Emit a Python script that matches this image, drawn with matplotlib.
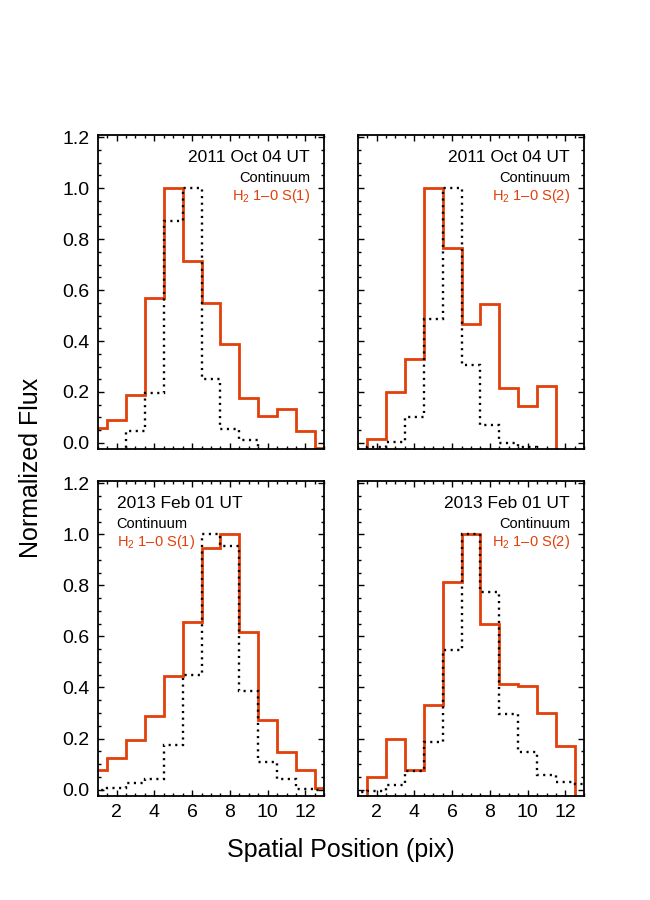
import numpy as np
import matplotlib
matplotlib.use("Agg")
import matplotlib.pyplot as plt
from matplotlib.ticker import MultipleLocator

plt.rcParams['font.family'] = ['Liberation Sans', 'DejaVu Sans']
plt.rcParams['mathtext.fontset'] = 'custom'
plt.rcParams['mathtext.rm'] = 'Liberation Sans'
plt.rcParams['mathtext.default'] = 'regular'

# pixel positions (bin centres)
positions = [1, 2, 3, 4, 5, 6, 7, 8, 9, 10, 11, 12, 13]

# 2011 Oct 04, H2 1-0 S(1)
line_2011_s1 = [0.06, 0.09, 0.19, 0.57, 1.0, 0.715, 0.55, 0.39, 0.175, 0.105, 0.135, 0.045, -0.02]
cont_2011_s1 = [-0.05, -0.05, 0.045, 0.195, 0.87, 1.0, 0.25, 0.055, 0.01, -0.05, -0.05, -0.05, -0.05]
# 2011 Oct 04, H2 1-0 S(2)
line_2011_s2 = [-0.05, 0.015, 0.2, 0.33, 1.0, 0.765, 0.465, 0.545, 0.215, 0.145, 0.225, -0.05, -0.05]
cont_2011_s2 = [-0.05, -0.015, 0.004, 0.1, 0.487, 1.0, 0.305, 0.07, 0.0, -0.015, -0.05, -0.05, -0.05]
# 2013 Feb 01, H2 1-0 S(1)
line_2013_s1 = [0.075, 0.122, 0.193, 0.29, 0.445, 0.658, 0.948, 1.0, 0.617, 0.272, 0.148, 0.077, 0.006]
cont_2013_s1 = [-0.003, 0.008, 0.025, 0.04, 0.175, 0.45, 1.0, 0.955, 0.385, 0.11, 0.04, 0.003, 0.0]
# 2013 Feb 01, H2 1-0 S(2)
line_2013_s2 = [-0.05, 0.05, 0.2, 0.076, 0.332, 0.813, 1.0, 0.65, 0.413, 0.407, 0.302, 0.171, -0.05]
cont_2013_s2 = [-0.008, -0.007, 0.02, 0.073, 0.185, 0.547, 1.0, 0.773, 0.296, 0.146, 0.058, 0.028, 0.021]

dates = ['2011 Oct 04 UT', '2011 Oct 04 UT', '2013 Feb 01 UT', '2013 Feb 01 UT']
line_labels = ['H$_2$ 1\u20130 S(1)', 'H$_2$ 1\u20130 S(2)', 'H$_2$ 1\u20130 S(1)', 'H$_2$ 1\u20130 S(2)']
cont_label = 'Continuum'

RED = '#e2400a'

fig = plt.figure(figsize=(6.5, 9), dpi=100)
W, H = 650, 900
boxes = [(97.7, 134.7, 324.3, 449.3), (357.7, 134.7, 584.3, 449.3),
         (97.7, 480.7, 324.3, 796.0), (357.7, 480.7, 584.3, 796.0)]

lines = [line_2011_s1, line_2011_s2, line_2013_s1, line_2013_s2]
conts = [cont_2011_s1, cont_2011_s2, cont_2013_s1, cont_2013_s2]

pos = np.array(positions, dtype=float)
edges = np.concatenate([pos - 0.5, [pos[-1] + 0.5]])

for i, (x0, y0, x1, y1) in enumerate(boxes):
    ax = fig.add_axes([x0 / W, 1 - y1 / H, (x1 - x0) / W, (y1 - y0) / H])
    ax.stairs(lines[i], edges, baseline=None, color=RED, lw=2.0, zorder=2)
    ax.stairs(conts[i], edges, baseline=None, color='black', lw=1.7,
              linestyle=(0, (0.9, 1.9)), zorder=3)
    ax.set_xlim(1, 13)
    ax.set_ylim(-0.025, 1.21)
    ax.xaxis.set_major_locator(MultipleLocator(2))
    ax.xaxis.set_minor_locator(MultipleLocator(0.5))
    ax.yaxis.set_major_locator(MultipleLocator(0.2))
    ax.yaxis.set_minor_locator(MultipleLocator(0.05))
    ax.tick_params(which='both', direction='in', top=True, right=True,
                   labelsize=14, width=1.0, pad=6)
    ax.tick_params(which='major', length=4.5)
    ax.tick_params(which='minor', length=2.5)
    for s in ax.spines.values():
        s.set_linewidth(1.3)
    ax.yaxis.set_major_formatter(plt.FuncFormatter(lambda v, p: f'{v:.1f}'))
    if i in (0, 1):
        ax.tick_params(labelbottom=False)
    if i in (1, 3):
        ax.tick_params(labelleft=False)
    if i == 2:
        xt, ha = 0.084, 'left'
    else:
        xt, ha = 0.937, 'right'
    ax.text(xt, 0.913, dates[i], transform=ax.transAxes, ha=ha, va='baseline',
            fontsize=12.5, color='black')
    ax.text(xt, 0.849, cont_label, transform=ax.transAxes, ha=ha, va='baseline',
            fontsize=10.5, color='black')
    ax.text(xt, 0.793, line_labels[i], transform=ax.transAxes, ha=ha, va='baseline',
            fontsize=10.5, color=RED)

fig.text(341 / W, 1 - 857 / H, 'Spatial Position (pix)', ha='center', va='baseline', fontsize=18)
fig.text(31 / W, 1 - 468 / H, 'Normalized Flux', ha='center', va='center',
         rotation=90, fontsize=18)

fig.savefig('out.png', dpi=100)
